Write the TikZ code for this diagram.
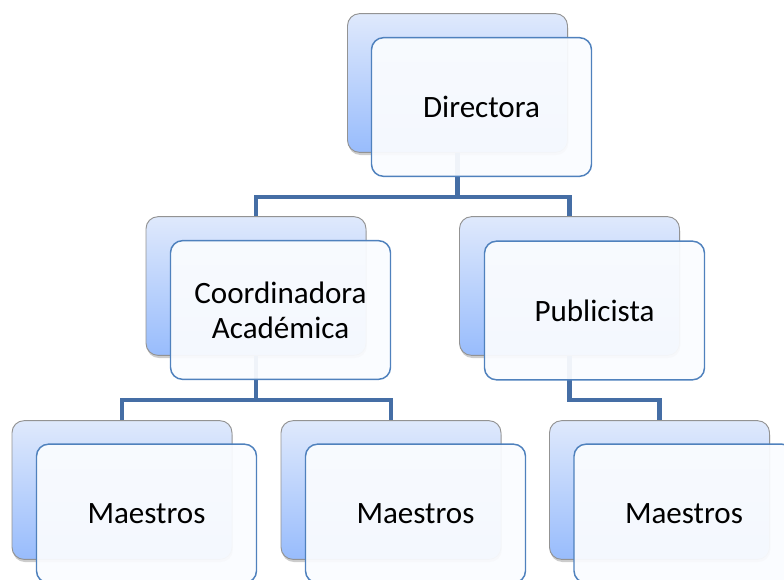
\documentclass[tikz,border=0pt]{standalone}
\usepackage{fontspec}
\setmainfont{Carlito}
\usepackage{tikz}
\usetikzlibrary{shadows,positioning}
\definecolor{orgline}{RGB}{69,110,165}
\definecolor{orgedge}{RGB}{79,129,189}
\definecolor{orgtop}{RGB}{223,233,252}
\definecolor{orgbot}{RGB}{152,188,252}
\definecolor{orgfront}{RGB}{250,252,255}
\tikzset{
  bk/.style  ={draw=gray!85, line width=0.7pt, rounded corners=9pt,
               top color=orgtop, bottom color=orgbot,
               minimum width=165pt, minimum height=104pt, inner sep=0pt,
               drop shadow={shadow xshift=0.6pt, shadow yshift=-2pt, opacity=0.4}},
  fr/.style  ={draw=orgedge, line width=1.1pt, rounded corners=9pt,
               fill=orgfront, fill opacity=0.94, text opacity=1,
               minimum width=165pt, minimum height=104pt, inner sep=0pt,
               align=center, font=\fontsize{23.3}{26}\selectfont},
  con/.style ={draw=orgline, line width=3.6pt},
}
\begin{document}
\begin{tikzpicture}[x=0.75pt,y=-0.75pt]
  \useasboundingbox (0,0) rectangle (784,579);
  \clip (0,0) rectangle (784,579);
  % back cards
  \node[bk] (dirB)  at (457.5,83) {};
  \node[bk] (cooB)  at (256,286) {};
  \node[bk] (pubB)  at (569.5,286) {};
  \node[bk] (maeB1) at (122,490) {};
  \node[bk] (maeB2) at (391,490) {};
  \node[bk] (maeB3) at (659.5,490) {};
  % connectors
  \coordinate (busA) at (0,197);
  \coordinate (busB) at (0,400);
  \draw[con] (dirB.south) -- (dirB.south |- busA) -| (cooB.north);
  \draw[con] (dirB.south |- busA) -| (pubB.north);
  \draw[con] (cooB.south) -- (cooB.south |- busB) -| (maeB1.north);
  \draw[con] (cooB.south |- busB) -| (maeB2.north);
  \draw[con] (pubB.south) -- (pubB.south |- busB) -| (maeB3.north);
  % front cards
  \node[fr] (dirF)  at (481.5,107) {Directora};
  \node[fr] (cooF)  at (280.5,310) {Coordinadora\\Académica};
  \node[fr] (pubF)  at (594.5,310.5) {Publicista};
  \node[fr] (maeF1) at (146.5,513.5) {Maestros};
  \node[fr] (maeF2) at (415.5,513.5) {Maestros};
  \node[fr] (maeF3) at (684,513.5) {Maestros};
\end{tikzpicture}
\end{document}
